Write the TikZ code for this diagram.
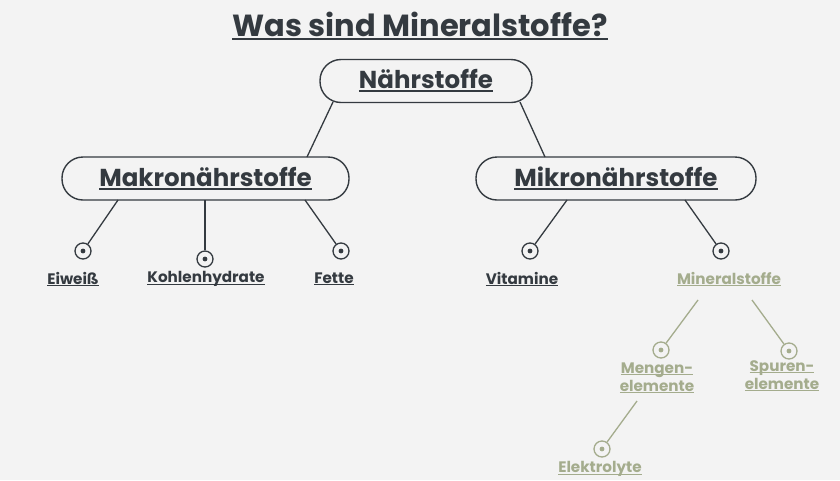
\documentclass[tikz,border=0pt]{standalone}
\usepackage{fontspec}
\setmainfont{Poppins}
\usepackage{tikz}
\usetikzlibrary{positioning}
\definecolor{ink}{HTML}{343A40}
\definecolor{sage}{HTML}{A4AC8D}
\definecolor{paper}{HTML}{F3F3F3}
\newcommand{\ulbox}[1]{\setbox0\hbox{#1}\leavevmode\rlap{\rule[-0.14em]{\wd0}{0.08em}}\box0}
\tikzstyle{nutrient} = [rectangle, rounded corners=21pt, draw=ink, line width=1.4pt, minimum height=43pt,
                        inner sep=0, font=\fontsize{24.5}{27}\selectfont\bfseries, text=ink]
\tikzstyle{leaf} = [inner sep=1pt, align=center, font=\fontsize{15.2}{18}\selectfont\bfseries, text=ink]
\tikzstyle{dot} = [circle, draw=ink, line width=1.3pt, minimum size=16pt, inner sep=0,
                   path picture={\fill[ink] (path picture bounding box.center) circle (2.4);}]
\tikzstyle{sagedot} = [dot, draw=sage, path picture={\fill[sage] (path picture bounding box.center) circle (2.4);}]
\tikzstyle{link} = [draw=ink, line width=1.3pt]

\begin{document}
\begin{tikzpicture}[x=1pt, y=-1pt]
				\fill[paper] (0, 0) rectangle (840, 480);
				\useasboundingbox (0, 0) rectangle (840, 480);

				\node (Title) [text=ink, font=\fontsize{30.5}{33}\selectfont\bfseries] at (420, 26) {\ulbox{Was sind Mineralstoffe?}};

				\node (Naehr) [nutrient, minimum width=212pt] at (426, 81) {\ulbox{Nährstoffe}};
				\node (Makro) [nutrient, minimum width=287pt] at (205.5, 178.5) {\ulbox{Makronährstoffe}};
				\node (Mikro) [nutrient, minimum width=280pt] at (616, 178.5) {\ulbox{Mikronährstoffe}};

				\coordinate (NaehrL) at (333, 102);
				\coordinate (NaehrR) at (520, 102);
				\coordinate (MakroTop) at (307, 157);
				\coordinate (MikroTop) at (545, 157);
				\draw[link] (NaehrL) -- (MakroTop);
				\draw[link] (NaehrR) -- (MikroTop);

				% Makro side
				\coordinate (MakroA) at (118, 200);
				\coordinate (MakroB) at (205, 200);
				\coordinate (MakroC) at (305, 200);
				\node (EiweissDot) [dot] at (83, 251) {};
				\node (KohleDot) [dot] at (205, 259) {};
				\node (FetteDot) [dot] at (341, 251) {};
				\draw[link] (MakroA) -- (EiweissDot);
				\draw[link] (MakroB) -- (KohleDot);
				\draw[link] (MakroC) -- (FetteDot);
				\node (Eiweiss) [leaf] at (73, 279) {\ulbox{Eiweiß}};
				\node (Kohle) [leaf] at (206, 279) {\ulbox{Kohlenhydrate}};
				\node (Fette) [leaf] at (334, 279) {\ulbox{Fette}};

				% Mikro side
				\coordinate (MikroA) at (567, 200);
				\coordinate (MikroB) at (685, 200);
				\node (VitaminDot) [dot] at (530, 251) {};
				\node (MineralDot) [dot] at (721, 251) {};
				\draw[link] (MikroA) -- (VitaminDot);
				\draw[link] (MikroB) -- (MineralDot);
				\node (Vitamin) [leaf] at (522, 279) {\ulbox{Vitamine}};
				\node (Mineral) [leaf, text=sage] at (729, 279) {\ulbox{Mineralstoffe}};

				% Mineralstoffe
				\coordinate (MineralA) at (698, 300);
				\coordinate (MineralB) at (752, 300);
				\node (MengenDot) [sagedot] at (661, 350) {};
				\node (SpurenDot) [sagedot] at (789, 351) {};
				\draw[link, draw=sage] (MineralA) -- (MengenDot);
				\draw[link, draw=sage] (MineralB) -- (SpurenDot);
				\node (Mengen) [leaf, text=sage] at (657, 378) {\ulbox{Mengen-}\\\ulbox{elemente}};
				\node (Spuren) [leaf, text=sage] at (782, 376) {\ulbox{Spuren-}\\\ulbox{elemente}};

				\coordinate (MengenA) at (637, 401);
				\node (ElektroDot) [sagedot] at (602, 449) {};
				\draw[link, draw=sage] (MengenA) -- (ElektroDot);
				\node (Elektro) [leaf, text=sage] at (600, 469) {\ulbox{Elektrolyte}};
			\end{tikzpicture}
\end{document}
